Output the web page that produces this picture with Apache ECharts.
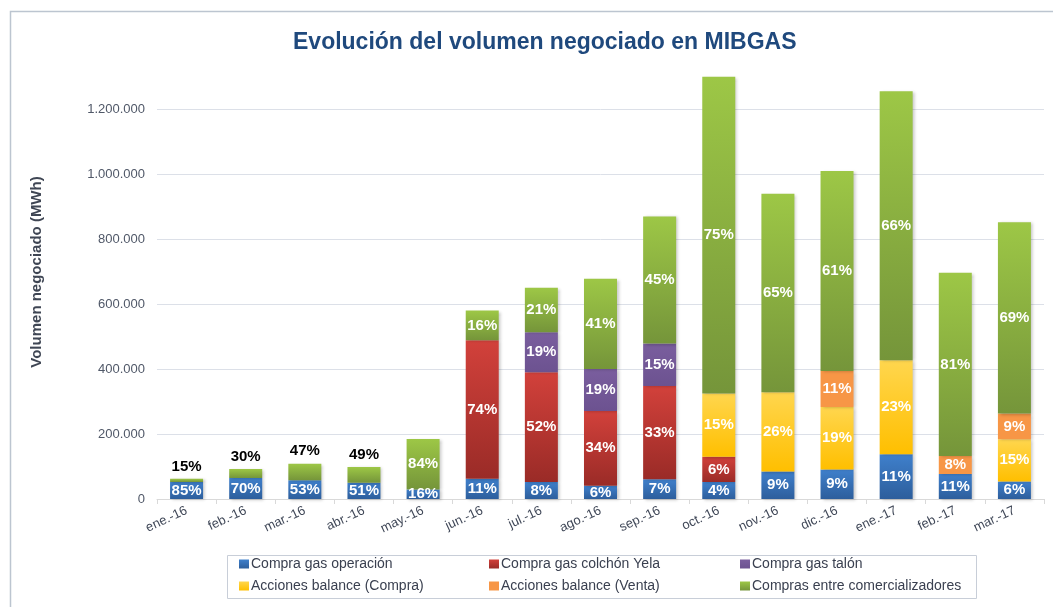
<!DOCTYPE html>
<html><head><meta charset="utf-8">
<script src="https://cdn.jsdelivr.net/npm/echarts@6/dist/echarts.min.js"></script>
<style>html,body{margin:0;padding:0;background:#fff}#c{width:1053px;height:607px}</style>
</head><body><div id="c"></div>
<script>
const categories = ['ene.-16','feb.-16','mar.-16','abr.-16','may.-16','jun.-16','jul.-16','ago.-16','sep.-16','oct.-16','nov.-16','dic.-16','ene.-17','feb.-17','mar.-17'];
const seriesNames = ['Compra gas operación','Compra gas colchón Yela','Compra gas talón','Acciones balance (Compra)','Acciones balance (Venta)','Compras entre comercializadores'];
const compraOperacion = [52700, 64400, 57500, 50200, 29600, 62000, 52000, 40700, 61000, 52000, 84600, 91000, 138000, 76600, 54000];
const compraColchon   = [0, 0, 0, 0, 0, 427000, 338000, 230500, 287000, 78000, 0, 0, 0, 0, 0];
const compraTalon     = [0, 0, 0, 0, 0, 0, 123500, 129000, 130500, 0, 0, 0, 0, 0, 0];
const balanceCompra   = [0, 0, 0, 0, 0, 0, 0, 0, 0, 195000, 244000, 192000, 289000, 0, 130000];
const balanceVenta    = [0, 0, 0, 0, 0, 0, 0, 0, 0, 0, 0, 111000, 0, 55700, 79000];
const comercializadores = [9300, 27600, 51000, 48300, 155400, 91000, 136500, 278000, 391500, 975000, 611000, 616000, 828000, 564000, 589000];
const yTicks = [0, 200000, 400000, 600000, 800000, 1000000, 1200000];

const allSeries = [compraOperacion, compraColchon, compraTalon, balanceCompra, balanceVenta, comercializadores];
const totals = categories.map((_, i) => allSeries.reduce((s, a) => s + a[i], 0));

const grads = [
  ['#3F80CC', '#2D5E9C'],
  ['#D2413B', '#9A2B27'],
  ['#7A5E9E', '#6C5290'],
  ['#FFD64E', '#FFBF00'],
  ['#F79646', '#F79646'],
  ['#9DC746', '#75953A']
];
const legendColors = ['#3A74BE', '#C0322D', '#7A5E9E', '#FFCC1E', '#F79646', '#8DB83E'];
const FONT = 'Liberation Sans, Arial, sans-serif';

function grad(c) {
  return new echarts.graphic.LinearGradient(0, 0, 0, 1, [{offset: 0, color: c[0]}, {offset: 1, color: c[1]}]);
}

const series = allSeries.map((arr, si) => ({
  name: seriesNames[si],
  type: 'bar',
  stack: 'total',
  barWidth: 33,
  color: legendColors[si],
  itemStyle: {
    color: grad(grads[si]),
    shadowColor: 'rgba(0,0,0,0.22)', shadowBlur: 3, shadowOffsetX: 2, shadowOffsetY: 1
  },
  label: {
    show: true,
    position: 'inside',
    color: '#ffffff',
    fontFamily: FONT,
    fontWeight: 'bold',
    fontSize: 15,
    formatter: p => p.value > 0 ? Math.round(p.value / totals[p.dataIndex] * 100) + '%' : ''
  },
  data: arr.map(v => {
    if (si === 5 && v > 0 && v < 60000) {
      return { value: v, label: { position: 'top', color: '#000000', fontSize: 15, distance: 5 } };
    }
    return v;
  })
}));

const legendPos = [[239, 556], [489, 556], [740, 556], [239, 578], [489, 578], [740, 578]];
const legends = seriesNames.map((n, i) => ({
  data: [n],
  left: legendPos[i][0],
  top: legendPos[i][1],
  icon: 'rect',
  itemWidth: 10,
  itemHeight: 9,
  itemGap: 0,
  padding: 0,
  selectedMode: false,
  textStyle: { color: '#3A4050', fontSize: 14, lineHeight: 16, fontFamily: FONT, padding: [0, 0, 0, -3] }
}));

const chart = echarts.init(document.getElementById('c'), null, {renderer: 'canvas'});
chart.setOption({
  animation: false,
  backgroundColor: '#ffffff',
  title: {
    text: 'Evolución del volumen negociado en MIBGAS',
    left: 288,
    top: 26,
    textStyle: { color: '#1F497D', fontSize: 23, fontWeight: 'bold', fontFamily: FONT }
  },
  legend: legends,
  grid: { left: 157, right: 9, top: 76.7, bottom: 108, containLabel: false },
  xAxis: {
    type: 'category',
    data: categories,
    axisLine: { lineStyle: { color: '#D9D9D9' } },
    axisTick: { show: true, length: 5, lineStyle: { color: '#D9D9D9' } },
    axisLabel: { rotate: 25, color: '#404858', fontSize: 13, fontFamily: FONT, margin: 11 }
  },
  yAxis: {
    type: 'value',
    min: 0,
    max: 1300000,
    interval: 200000,
    axisLine: { show: false },
    axisTick: { show: false },
    splitLine: { show: true, showMaxLine: false, lineStyle: { color: '#DCE0E8' } },
    axisLabel: {
      showMaxLabel: false,
      color: '#505868', fontSize: 13, margin: 12, fontFamily: FONT,
      formatter: v => yTicks.indexOf(v) >= 0 ? v.toString().replace(/\B(?=(\d{3})+(?!\d))/g, '.') : ''
    }
  },
  graphic: [
    { type: 'rect', left: 8, top: 9, shape: { width: 1080, height: 640 }, style: { fill: 'none', stroke: '#BCC5D0', lineWidth: 1.5 }, silent: true, z: -1 },
    { type: 'rect', left: 225, top: 553, shape: { width: 749, height: 43 }, style: { fill: 'none', stroke: '#C8CED8', lineWidth: 1 }, silent: true },
    { type: 'text', x: 37, y: 272, rotation: Math.PI / 2,
      style: { text: 'Volumen negociado (MWh)', fill: '#3F4654', font: 'bold 15px "Liberation Sans", Arial, sans-serif', textAlign: 'center', textVerticalAlign: 'middle' } }
  ],
  series: series
});
</script>
</body></html>
